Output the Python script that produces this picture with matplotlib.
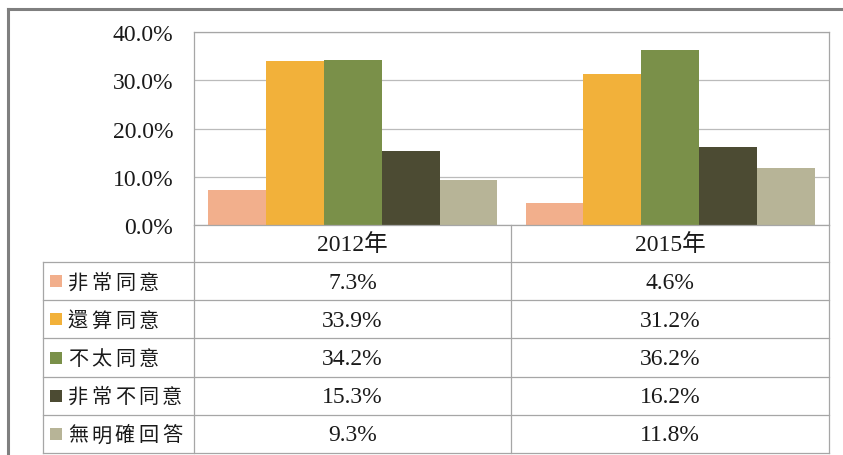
import matplotlib.pyplot as plt
import numpy as np

plt.rcParams["font.family"] = ["Liberation Serif", "Noto Sans CJK TC"]

years = ["2012年", "2015年"]
answers = ["非常同意", "還算同意", "不太同意", "非常不同意", "無明確回答"]
pct_2012 = [7.3, 33.9, 34.2, 15.3, 9.3]
pct_2015 = [4.6, 31.2, 36.2, 16.2, 11.8]
colors = ["#F2AF8C", "#F2B13A", "#7A9049", "#4C4B33", "#B7B497"]

W, H = 843, 456
fig = plt.figure(figsize=(W / 100, H / 100), dpi=100)

# full-figure overlay in pixel coordinates for the frame and data table
bg = fig.add_axes([0, 0, 1, 1], zorder=0)
bg.set_xlim(0, W)
bg.set_ylim(H, 0)
bg.axis("off")

# chart region edges (pixels)
left, right, top, bottom = 194, 829, 33, 226
mid = 511
legend_left = 43
header_bottom = 263
table_bottom = 454

ax = fig.add_axes([left / W, 1 - bottom / H, (right - left) / W, (bottom - top) / H], zorder=1)
ax.set_facecolor("none")

values = np.array([pct_2012, pct_2015])
x = np.arange(len(years))
width = 0.1823
for i, name in enumerate(answers):
    ax.bar(x + (i - 2) * width, values[:, i], width, color=colors[i], zorder=2, label=name)

txt_color = "#1A1A1A"
num_size = 17

ax.set_xlim(-0.5, 1.5)
ax.set_ylim(0, 40)
ax.set_yticks([0, 10, 20, 30, 40])
ax.set_yticklabels([f"{v:.1f}%" for v in [0, 10, 20, 30, 40]], fontsize=num_size, color=txt_color)
ax.set_xticks([])
ax.tick_params(axis="y", length=0, pad=15)
ax.yaxis.grid(True, color="#BBBBBB", linewidth=0.9, zorder=0)
for s in ax.spines.values():
    s.set_color("#A6A6A6")
    s.set_linewidth(0.9)

# outer frame
bg.plot([8, 8], [10, H], color="#7F7F7F", linewidth=2.2)
bg.plot([8, W], [10, 10], color="#7F7F7F", linewidth=2.2)

# data table grid
line_kw = dict(color="#A6A6A6", linewidth=0.9)
row_h = (table_bottom - header_bottom) / len(answers)
row_edges = [header_bottom + k * row_h for k in range(len(answers) + 1)]
for y in row_edges:
    bg.plot([legend_left, right], [y, y], **line_kw)
bg.plot([legend_left, legend_left], [header_bottom, table_bottom], **line_kw)
for xv in (left, mid, right):
    bg.plot([xv, xv], [bottom, table_bottom], **line_kw)

col_centers = [(left + mid) / 2, (mid + right) / 2]
for c, yr in enumerate(years):
    bg.text(col_centers[c], (bottom + header_bottom) / 2 + 1, yr, ha="center", va="center",
            fontsize=num_size, color=txt_color)

char_pitch = 23.6
for r, name in enumerate(answers):
    yc = row_edges[r] + row_h / 2
    bg.add_patch(plt.Rectangle((50, yc - 6), 12, 12, color=colors[r], linewidth=0))
    # spaced-out legend characters
    for k, ch in enumerate(name):
        bg.text(68 + k * char_pitch + char_pitch / 2 - 2, yc + 1, ch, ha="center", va="center",
                fontsize=14.5, family=["Noto Sans CJK TC"], color=txt_color)
    for c in range(len(years)):
        bg.text(col_centers[c], yc + 1, f"{values[c, r]:.1f}%", ha="center", va="center",
                fontsize=num_size, color=txt_color)

fig.savefig("out.png", dpi=100)
